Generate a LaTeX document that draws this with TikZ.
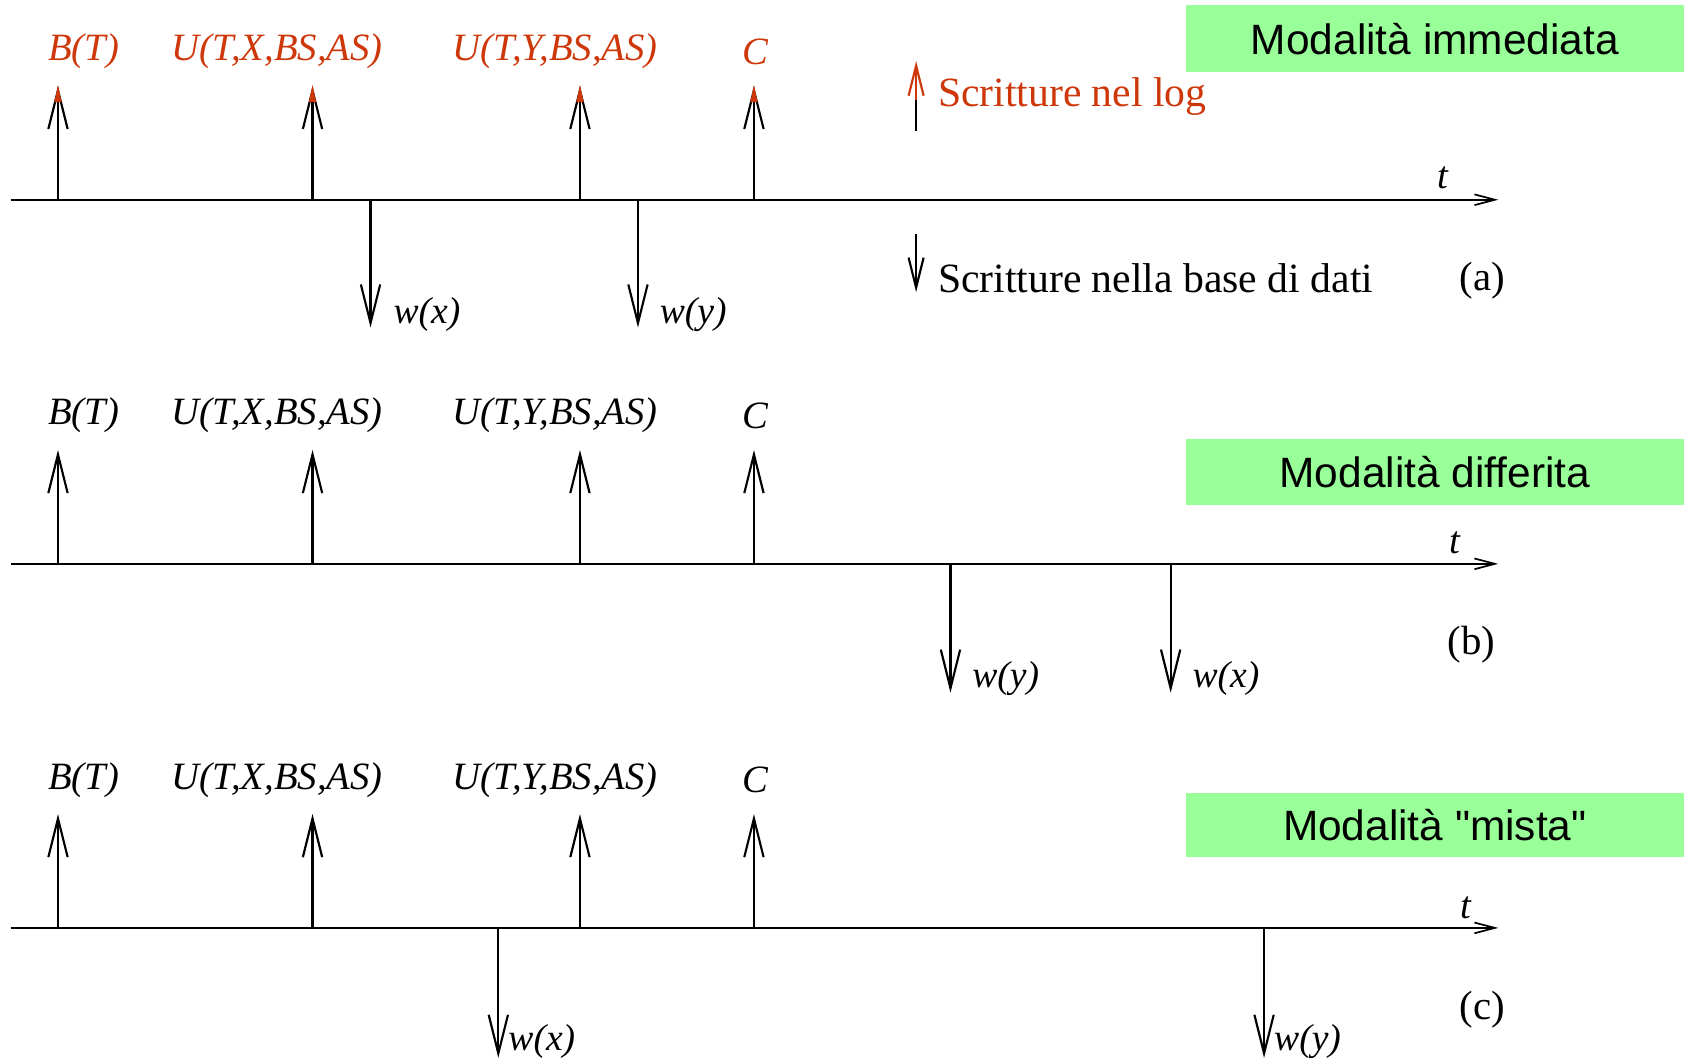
\documentclass[tikz,border=0pt]{standalone}
\usepackage{fontspec}
\setmainfont{Liberation Serif}
\setsansfont{Liberation Sans}
\newfontfamily\boxfont{Liberation Sans}
\usetikzlibrary{arrows.meta}
\definecolor{logred}{RGB}{205,55,10}
\definecolor{boxgreen}{RGB}{153,255,153}
\tikzset{
  ev/.style={line width=1pt,-{Straight Barb[length=18pt,width=9pt,line width=1pt]}},
  axisline/.style={line width=0.8pt,-{Straight Barb[length=9.5pt,width=5pt,line width=0.8pt]}},
  lbl/.style={font=\fontsize{18}{20}\selectfont\itshape, inner sep=0pt},
  wlbl/.style={font=\fontsize{17.5}{20}\selectfont\itshape, inner sep=0pt, anchor=west},
  tlbl/.style={font=\fontsize{18}{20}\selectfont\itshape, inner sep=0pt},
  plbl/.style={font=\fontsize{19}{22}\selectfont, inner sep=0pt},
  lgd/.style={font=\fontsize{19.4}{22}\selectfont, inner sep=0pt, anchor=west},
  modebox/.style={fill=boxgreen, draw=none, minimum width=232pt, inner sep=0pt,
    font=\boxfont\fontsize{19.75}{22}\selectfont}
}
\begin{document}
\begin{tikzpicture}[x=0.5pt,y=-0.5pt]
\useasboundingbox (0,0) rectangle (1568,988);

% three time lines with log writes
\foreach \p/\dy/\col in {a/0/logred,b/339/black,c/678/black} {
  \coordinate (\p0) at (10,186+\dy);
  \coordinate (\p1) at (1395,186+\dy);
  \draw[axisline] (\p0) -- (\p1);
  \foreach \i/\x/\lx/\txt in {1/54/78/{B(T)},2/291/258/{U(T,X,BS,AS)},3/540/517/{U(T,Y,BS,AS)},4/702/703/{C}} {
    \coordinate (\p u\i) at (\x,186+\dy);
    \coordinate (\p v\i) at (\x,80+\dy);
    \draw[ev] (\p u\i) -- (\p v\i);
    \node[lbl,text=\col] (\p l\i) at (\lx,48+\dy) {\txt};
  }
}
% red tips in panel (a)
\foreach \x in {54,291,540,702} {
  \fill[logred] (\x,79) -- (\x-3.4,95) -- (\x+3.4,95) -- cycle;
}

% panel (a) database writes
\coordinate (ax) at (345,186); \coordinate (axe) at (345,305);
\coordinate (ay) at (594,186); \coordinate (aye) at (594,305);
\draw[ev] (ax) -- (axe);
\draw[ev] (ay) -- (aye);
\node[wlbl] (awx) at (366,293) {w(x)};
\node[wlbl] (awy) at (614,293) {w(y)};
\node[tlbl] (at) at (1343,166) {t};
\node[plbl] (ap) at (1380,261) {(a)};

% legend
\coordinate (lg0) at (853,122); \coordinate (lg1) at (853,93); \coordinate (lg2) at (853,57);
\draw[line width=1pt] (lg0) -- (lg1);
\draw[line width=1pt,logred,-{Straight Barb[length=14pt,width=7pt,line width=1pt]}] (lg1) -- (lg2);
\node[lgd,text=logred] (lglog) at (873,90) {Scritture nel log};
\coordinate (ld0) at (853,218); \coordinate (ld1) at (853,272);
\draw[line width=1pt,-{Straight Barb[length=14pt,width=7pt,line width=1pt]}] (ld0) -- (ld1);
\node[lgd] (lgdb) at (873,259) {Scritture nella base di dati};

\node[modebox,minimum height=31pt] (ma) at (1336,36) {Modalità immediata};

% panel (b)
\coordinate (by) at (885,525); \coordinate (bye) at (885,645);
\coordinate (bx) at (1090,525); \coordinate (bxe) at (1090,645);
\draw[ev] (by) -- (bye);
\draw[ev] (bx) -- (bxe);
\node[wlbl] (bwy) at (905,632) {w(y)};
\node[wlbl] (bwx) at (1110,632) {w(x)};
\node[tlbl] (bt) at (1355,505) {t};
\node[plbl] (bp) at (1370,600) {(b)};
\node[modebox,minimum height=30.5pt] (mb) at (1336,439.5) {Modalità differita};

% panel (c)
\coordinate (cx) at (464,864); \coordinate (cxe) at (464,985);
\coordinate (cy) at (1177,864); \coordinate (cye) at (1177,985);
\draw[ev] (cx) -- (cxe);
\draw[ev] (cy) -- (cye);
\node[wlbl] (cwx) at (473,970) {w(x)};
\node[wlbl] (cwy) at (1186,970) {w(y)};
\node[tlbl] (ct) at (1365,845) {t};
\node[plbl] (cp) at (1380,940) {(c)};
\node[modebox,minimum height=30pt] (mc) at (1336,768) {Modalità "mista"};
\end{tikzpicture}
\end{document}
